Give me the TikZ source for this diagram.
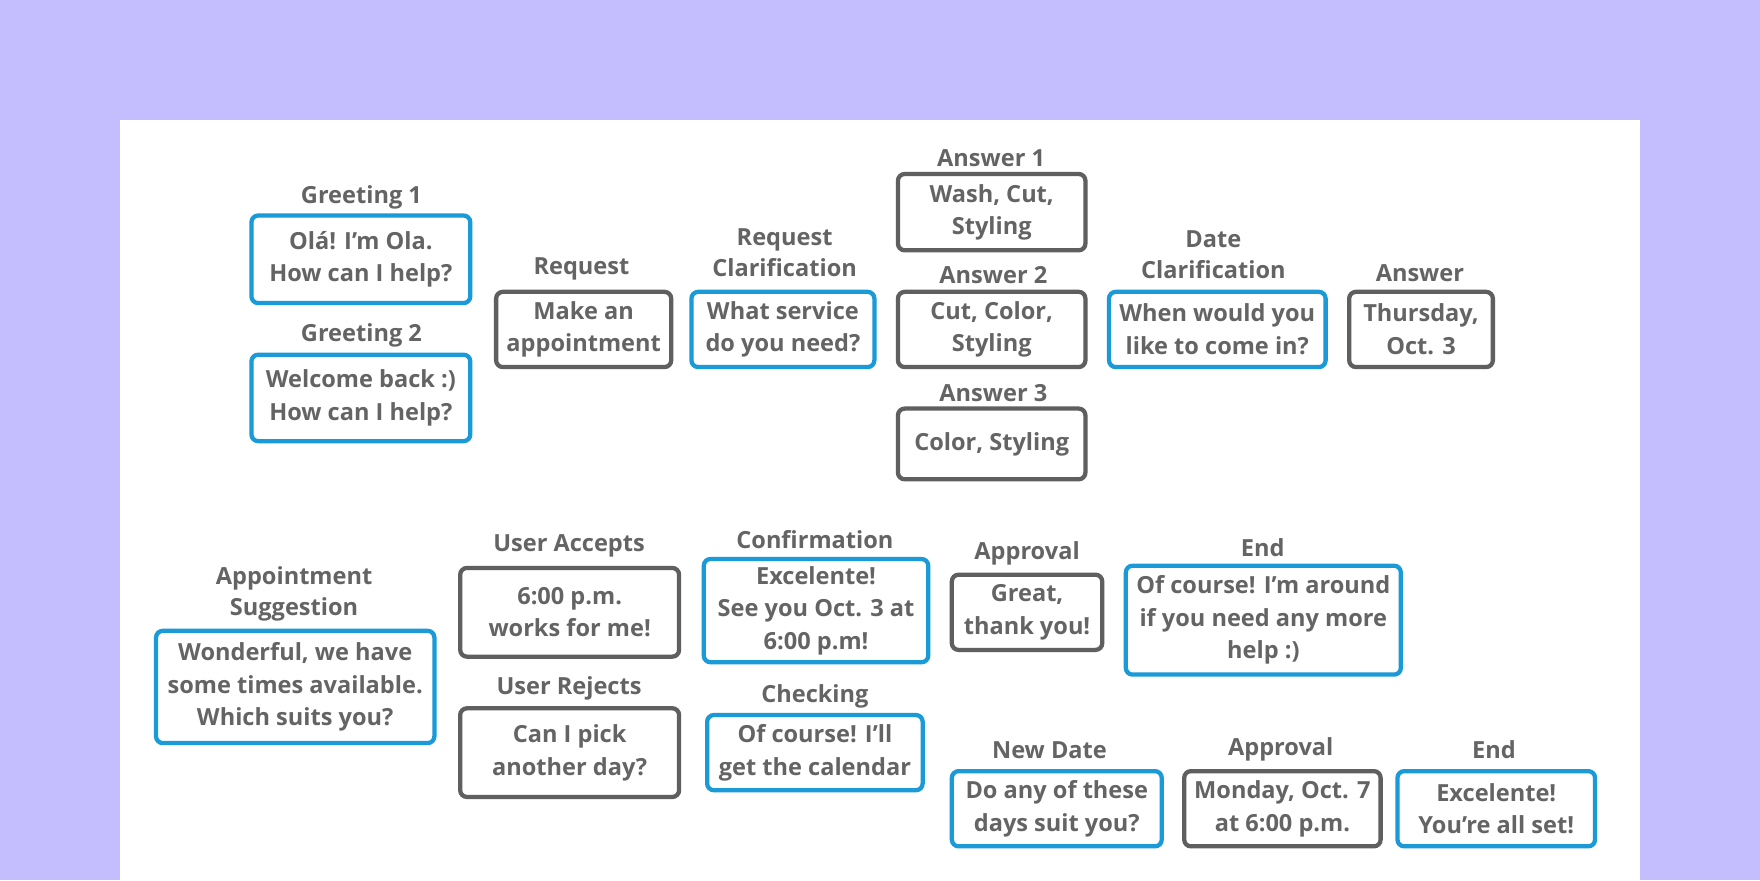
\documentclass[tikz,border=0pt]{standalone}
\usepackage{fontspec}
\setmainfont{Open Sans}
\definecolor{bgl}{HTML}{C4BEFF}
\definecolor{txt}{HTML}{646464}
\definecolor{bl}{HTML}{1A9BD7}
\definecolor{gr}{HTML}{5F5F5F}
\tikzset{
 box/.style={draw, line width=1.9pt, rounded corners=3pt, align=center, text=txt, inner sep=0pt,
   font=\bfseries\fontsize{10.5}{14.5}\selectfont},
 bbox/.style={box, draw=bl},
 gbox/.style={box, draw=gr},
 lab/.style={text=txt, align=center, font=\bfseries\fontsize{10.5}{14}\selectfont},
}
\newcommand{\bx}[7]{\node[#6, minimum width={(#4-#2)*0.5pt}, minimum height={(#5-#3)*0.5pt}] (#1) at ({(#2+#4)/2},{(#3+#5)/2}) {#7};}
\begin{document}
\begin{tikzpicture}[x=0.5pt,y=-0.5pt]
\fill[bgl] (0,0) rectangle (1568,784);
\fill[white] (107,107) rectangle (1461,784);
\useasboundingbox (0,0) rectangle (1568,784);
\bx{g1}{224}{192}{419}{270}{bbox}{Olá! I’m Ola.\\How can I help?}
\node[lab] (lg1) at (322,176) {Greeting 1};
\bx{g2}{224}{316}{419}{393}{bbox}{Welcome back :)\\How can I help?}
\node[lab] (lg2) at (322,299) {Greeting 2};
\bx{rq}{442}{260}{598}{327}{gbox}{Make an\\appointment}
\node[lab] (lrq) at (518,240) {Request};
\bx{rc}{616}{260}{779}{327}{bbox}{What service\\do you need?}
\node[lab] (lrc) at (699,225) {Request\\Clarification};
\bx{a1}{800}{155}{967}{223}{gbox}{Wash, Cut,\\Styling}
\node[lab] (la1) at (883,141) {Answer 1};
\bx{a2}{800}{260}{967}{327}{gbox}{Cut, Color,\\Styling}
\node[lab] (la2) at (885,245) {Answer 2};
\bx{a3}{800}{364}{967}{427}{gbox}{Color, Styling}
\node[lab] (la3) at (885,350) {Answer 3};
\bx{dc}{988}{260}{1181}{327}{bbox}{When would you\\like to come in?}
\node[lab] (ldc) at (1081,227) {Date\\Clarification};
\bx{an}{1202}{260}{1330}{327}{gbox}{Thursday,\\Oct. 3}
\node[lab] (lan) at (1265,243) {Answer};
\bx{as}{139}{562}{387}{662}{bbox}{Wonderful, we have\\some times available.\\Which suits you?}
\node[lab] (las) at (262,529) {Appointment\\Suggestion};
\bx{ua}{410}{506}{605}{585}{gbox}{6:00 p.m.\\works for me!}
\node[lab] (lua) at (507,486) {User Accepts};
\bx{ur}{410}{631}{605}{710}{gbox}{Can I pick\\another day?}
\node[lab] (lur) at (507,613) {User Rejects};
\bx{cf}{627}{498}{827}{590}{bbox}{Excelente!\\See you Oct. 3 at\\6:00 p.m!}
\node[lab] (lcf) at (726,481) {Confirmation};
\bx{ck}{630}{637}{822}{704}{bbox}{Of course! I’ll\\get the calendar}
\node[lab] (lck) at (726,620) {Checking};
\bx{ap}{848}{512}{982}{579}{gbox}{Great,\\thank you!}
\node[lab] (lap) at (915,493) {Approval};
\bx{en}{1003}{504}{1248}{601}{bbox}{Of course! I’m around\\if you need any more\\help :)}
\node[lab] (len) at (1125,488) {End};
\bx{nd}{848}{687}{1035}{754}{bbox}{Do any of these\\days suit you?}
\node[lab] (lnd) at (935,668) {New Date};
\bx{ap2}{1055}{687}{1230}{754}{gbox}{Monday, Oct. 7\\at 6:00 p.m.}
\node[lab] (lap2) at (1141,668) {Approval};
\bx{en2}{1245}{687}{1421}{754}{bbox}{Excelente!\\You’re all set!}
\node[lab] (len2) at (1331,668) {End};
\end{tikzpicture}
\end{document}
